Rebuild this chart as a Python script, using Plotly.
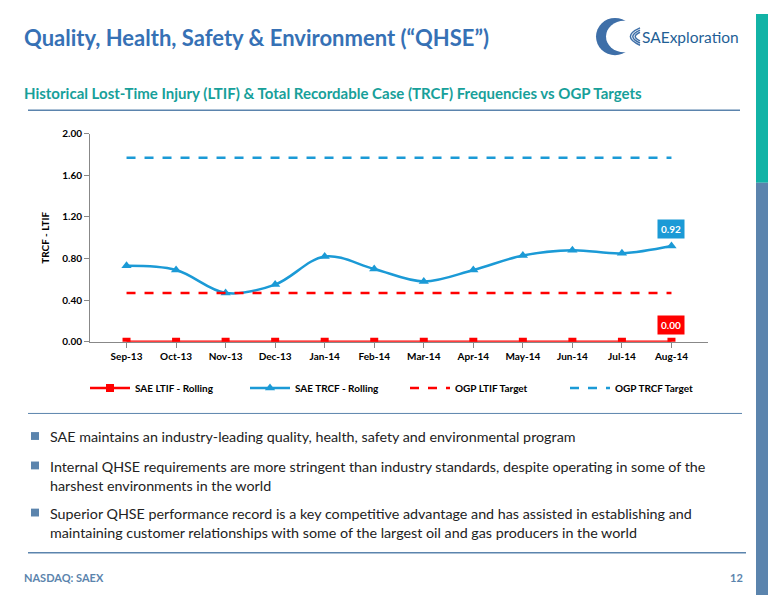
import plotly.graph_objects as go

months = ["Sep-13","Oct-13","Nov-13","Dec-13","Jan-14","Feb-14","Mar-14","Apr-14","May-14","Jun-14","Jul-14","Aug-14"]
ltif = [0,0,0,0,0,0,0,0,0,0,0,0]
trcf = [0.73,0.69,0.47,0.55,0.82,0.70,0.58,0.69,0.83,0.88,0.85,0.92]
ltif_target = [0.47]*12
trcf_target = [1.77]*12
yticks = [0,0.4,0.8,1.2,1.6,2.0]

OFF = 8
W, H = 776 - OFF, 600 - OFF
def px(x): return (x - OFF) / W
def py(y): return 1 - (y - OFF) / H

RED = "#FF0000"; BLUE = "#1B9AD6"
F = "Lato"
fig = go.Figure()
fig.add_trace(go.Scatter(x=months, y=ltif, name="<b>SAE LTIF - Rolling</b>", mode="lines+markers",
    line=dict(color=RED, width=2.5), marker=dict(symbol="square", size=8, color=RED)))
fig.add_trace(go.Scatter(x=months, y=trcf, name="<b>SAE TRCF - Rolling</b>", mode="lines+markers",
    line=dict(color=BLUE, width=2.5, shape="spline"), marker=dict(symbol="triangle-up", size=9, color=BLUE)))
fig.add_trace(go.Scatter(x=months, y=ltif_target, name="<b>OGP LTIF Target</b>", mode="lines",
    line=dict(color=RED, width=2.5, dash="dash")))
fig.add_trace(go.Scatter(x=months, y=trcf_target, name="<b>OGP TRCF Target</b>", mode="lines",
    line=dict(color=BLUE, width=2.5, dash="dash")))

fig.add_annotation(x=months[-1], y=trcf[-1], text="<b>%.2f</b>" % trcf[-1], showarrow=False, yshift=17,
    bgcolor=BLUE, font=dict(color="white", size=10, family=F), borderpad=3)
fig.add_annotation(x=months[-1], y=ltif[-1], text="<b>%.2f</b>" % ltif[-1], showarrow=False, yshift=17,
    bgcolor=RED, font=dict(color="white", size=10, family=F), borderpad=3)

fig.update_layout(
    width=W, height=H, margin=dict(l=0, r=0, t=0, b=0), plot_bgcolor="white", paper_bgcolor="white",
    showlegend=True,
    legend=dict(orientation="h", x=px(405), xanchor="center", y=py(389), yanchor="middle",
                font=dict(size=10, family=F, color="black"), entrywidthmode="pixels", entrywidth=105,
                itemwidth=40, tracegroupgap=0),
    xaxis=dict(domain=[px(90), px(708)], showline=True, linecolor="#888", ticks="outside", tickcolor="#888",
               tickfont=dict(size=10, family=F, color="black"), showgrid=False,
               tickvals=months, ticktext=["<b>%s</b>" % m for m in months]),
    yaxis=dict(domain=[py(342), py(130)], range=[0, 2.0], tickvals=yticks,
               ticktext=["<b>%.2f</b>" % v for v in yticks],
               showline=True, linecolor="#888", ticks="outside", tickcolor="#888", showgrid=False, zeroline=False,
               tickfont=dict(size=10, family=F, color="black"),
               title=dict(text="<b>TRCF - LTIF</b>", font=dict(size=10, family=F, color="black"), standoff=10)),
)

shapes = [
    dict(type="rect", xref="paper", yref="paper", x0=px(756), x1=1, y0=py(180), y1=1, fillcolor="#12B3A6", line_width=0),
    dict(type="rect", xref="paper", yref="paper", x0=px(756), x1=1, y0=0, y1=py(180), fillcolor="#5B84AD", line_width=0),
    dict(type="line", xref="paper", yref="paper", x0=px(28), x1=px(740), y0=py(106), y1=py(106), line=dict(color="#5B84AD", width=1.5)),
    dict(type="line", xref="paper", yref="paper", x0=px(28), x1=px(742), y0=py(415), y1=py(415), line=dict(color="#5B84AD", width=1)),
    dict(type="line", xref="paper", yref="paper", x0=px(28), x1=px(746), y0=py(557), y1=py(557), line=dict(color="#5B84AD", width=1.5)),
    dict(type="circle", xref="paper", yref="paper", x0=px(596), x1=px(634), y0=py(50), y1=py(12), fillcolor="#3E6FA8", line_width=0),
    dict(type="circle", xref="paper", yref="paper", x0=px(606), x1=px(642), y0=py(47), y1=py(15), fillcolor="white", line_width=0),
]
for r in [16, 12, 8]:
    shapes.append(dict(type="path", xref="paper", yref="paper",
        path="M %f %f Q %f %f %f %f" % (px(640), py(31 - r*0.55), px(640 - r*1.2), py(31), px(640), py(31 + r*0.55)),
        line=dict(color="#3E6FA8", width=1.5)))
bullet_y = [438, 468, 516]
for by in bullet_y:
    shapes.append(dict(type="rect", xref="paper", yref="paper", x0=px(31), x1=px(39), y0=py(by+4), y1=py(by-4),
                       fillcolor="#5B84AD", line_width=0))
fig.update_layout(shapes=shapes)

def txt(x, y, t, size, color, xa="left", ya="middle", align="left"):
    fig.add_annotation(xref="paper", yref="paper", x=px(x), y=py(y), text=t, showarrow=False, xanchor=xa, yanchor=ya,
                       align=align, font=dict(size=size, family=F, color=color))

txt(22, 32, "<b>Quality, Health, Safety & Environment (“QHSE”)</b>", 22, "#3671B5")
txt(22, 88, "<b>Historical Lost-Time Injury (LTIF) & Total Recordable Case (TRCF) Frequencies vs OGP Targets</b>", 15, "#17A09A")
txt(640, 31, "SAExploration", 15.5, "#1F5F96")
txt(48, 439, "SAE maintains an industry-leading quality, health, safety and environmental program", 14.3, "#222")
txt(48, 479, "Internal QHSE requirements are more stringent than industry standards, despite operating in some of the<br>harshest environments in the world", 14.3, "#222")
txt(48, 527, "Superior QHSE performance record is a key competitive advantage and has assisted in establishing and<br>maintaining customer relationships with some of the largest oil and gas producers in the world", 14.3, "#222")
txt(22, 582, "<b>NASDAQ: SAEX</b>", 11, "#5B84AD")
txt(745, 582, "<b>12</b>", 11, "#5B84AD", xa="right")

fig.write_html("out.html")
